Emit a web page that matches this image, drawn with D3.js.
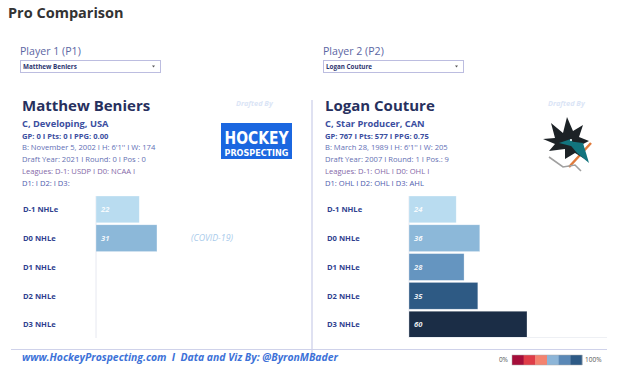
<!DOCTYPE html>
<html>
<head>
<meta charset="utf-8">
<script src="https://cdn.jsdelivr.net/npm/d3@7"></script>
<style>
  body { margin: 0; background: #fff; }
  svg { display: block; font-family: "Open Sans", "Noto Sans", sans-serif; }
</style>
</head>
<body>
<div id="chart"></div>
<script>
// NHLe levels and values per player
const levels = ["D-1 NHLe", "D0 NHLe", "D1 NHLe", "D2 NHLe", "D3 NHLe"];
const p1Values = [22, 31, null, null, null];
const p2Values = [24, 36, 28, 35, 60];
const levelColors = ["#b9dcf0", "#8cb8d9", "#6595c0", "#2e5a84", "#1b2d46"];

const p1Info = [
  "Matthew Beniers",
  "C, Developing, USA",
  "GP: 0 I Pts: 0 I PPG: 0.00",
  "B: November 5, 2002 I H: 6'1'' I W: 174",
  "Draft Year: 2021 I Round: 0 I Pos : 0",
  "Leagues: D-1: USDP I D0: NCAA I",
  "D1:  I D2:  I D3:"
];
const p2Info = [
  "Logan Couture",
  "C, Star Producer, CAN",
  "GP: 767 I Pts: 577 I PPG: 0.75",
  "B: March 28, 1989 I H: 6'1'' I W: 205",
  "Draft Year: 2007 I Round: 1 I Pos.: 9",
  "Leagues: D-1: OHL I D0: OHL I",
  "D1: OHL I D2: OHL I D3: AHL"
];
const legendColors = ["#a50e3a", "#df3d48", "#f4836f", "#8db5d7", "#5a88b6", "#2d5a86"];

const width = 628, height = 373;

const svg = d3.select("#chart").append("svg")
    .attr("width", width)
    .attr("height", height)
    .attr("viewBox", [0, 0, width, height]);

// Title
svg.append("text")
    .attr("x", 8).attr("y", 18)
    .attr("font-size", 14.5).attr("font-weight", 700)
    .attr("fill", "#333")
    .text("Pro Comparison");

// dividers
svg.append("line")
    .attr("x1", 312).attr("x2", 312).attr("y1", 100).attr("y2", 357)
    .attr("stroke", "#bfc3e4").attr("stroke-width", 1);
svg.append("line")
    .attr("x1", 11).attr("x2", 607).attr("y1", 349.5).attr("y2", 349.5)
    .attr("stroke", "#cfd2ea").attr("stroke-width", 1);

const x = d3.scaleLinear([0, 60], [0, 118]);
const y = d3.scaleBand(levels, [196, 338]).paddingInner(0.07);

function panel(px, labelX, baseX, draftedX, title, info, values, logo, note) {
  const g = svg.append("g");

  // player selector
  g.append("text")
      .attr("x", px).attr("y", 55)
      .attr("font-size", 10.6).attr("fill", "#5b66a3")
      .text(title);
  g.append("rect")
      .attr("x", px + 0.5).attr("y", 60.5).attr("width", 140).attr("height", 12)
      .attr("fill", "#fff").attr("stroke", "#bcbde0");
  g.append("text")
      .attr("x", px + 3).attr("y", 69)
      .attr("font-size", 6.3).attr("font-weight", 700).attr("fill", "#2d3570")
      .text(info[0]);
  g.append("path")
      .attr("d", `M${px + 132},${65.5}l3,0l-1.5,2z`)
      .attr("fill", "#555");

  // header text
  const hx = px + 2;
  g.append("text")
      .attr("x", hx).attr("y", 111)
      .attr("font-size", 15).attr("font-weight", 700).attr("fill", "#27305e")
      .text(info[0]);
  g.append("text")
      .attr("x", hx).attr("y", 126.5)
      .attr("font-size", 9.3).attr("font-weight", 700).attr("fill", "#3b4ea0")
      .text(info[1]);
  const lineColors = ["#3b4ea0", "#5f6fb6", "#6670b2", "#8468a8", "#4f5cae"];
  info.slice(2).forEach((t, i) => {
    g.append("text")
        .attr("x", hx).attr("y", 138.5 + i * 11.8)
        .attr("font-size", 7.6).attr("font-weight", i === 0 ? 700 : 400)
        .attr("fill", lineColors[i])
        .text(t);
  });

  g.append("text")
      .attr("x", draftedX).attr("y", 106)
      .attr("font-size", 7.3).attr("font-weight", 700).attr("font-style", "italic")
      .attr("fill", "#dbe5f6")
      .text("Drafted By");

  logo(g);

  // bars
  g.append("line")
      .attr("x1", baseX).attr("x2", baseX).attr("y1", 196).attr("y2", 338)
      .attr("stroke", "#e6e8f0");

  g.selectAll(".lab").data(levels).join("text")
      .attr("x", labelX)
      .attr("y", d => y(d) + y.bandwidth() / 2 + 2.7)
      .attr("font-size", 7.6).attr("font-weight", 700).attr("fill", "#2f3f8f")
      .text(d => d);

  const rows = levels.map((l, i) => ({ level: l, value: values[i], color: levelColors[i] }))
      .filter(d => d.value != null);

  g.selectAll(".bar").data(rows).join("rect")
      .attr("x", baseX)
      .attr("y", d => y(d.level))
      .attr("width", d => x(d.value))
      .attr("height", y.bandwidth())
      .attr("fill", d => d.color)
      .attr("stroke", "#ffffff").attr("stroke-opacity", 0.5).attr("stroke-width", 0.6);

  g.selectAll(".val").data(rows).join("text")
      .attr("x", baseX + 5)
      .attr("y", d => y(d.level) + y.bandwidth() / 2 + 2.7)
      .attr("font-size", 7.6).attr("font-weight", 700).attr("font-style", "italic")
      .attr("fill", "#fff").attr("fill-opacity", 0.9)
      .text(d => d.value);

  if (note) {
    g.append("text")
        .attr("x", 191).attr("y", y(levels[1]) + y.bandwidth() / 2 + 3)
        .attr("font-size", 8.8).attr("font-style", "italic")
        .attr("fill", "#a9cbeb")
        .text(note);
  }
}

function hpLogo(g) {
  g.append("rect")
      .attr("x", 221).attr("y", 123).attr("width", 71).attr("height", 36)
      .attr("fill", "#1b67e0");
  g.append("text")
      .attr("x", 256.5).attr("y", 143.5).attr("text-anchor", "middle")
      .attr("font-family", "'Liberation Sans Narrow', 'DejaVu Sans Condensed', sans-serif")
      .attr("font-size", 17).attr("font-weight", 700).attr("fill", "#fff")
      .attr("textLength", 64).attr("lengthAdjust", "spacingAndGlyphs")
      .text("HOCKEY");
  g.append("text")
      .attr("x", 256.5).attr("y", 155.5).attr("text-anchor", "middle")
      .attr("font-family", "'Liberation Sans Narrow', 'DejaVu Sans Condensed', sans-serif")
      .attr("font-size", 9.5).attr("font-weight", 700).attr("fill", "#fff")
      .attr("textLength", 64).attr("lengthAdjust", "spacingAndGlyphs")
      .text("PROSPECTING");
}

function sharksLogo(g) {
  const lg = g.append("g").attr("transform", "translate(541,117)");
  // stick
  lg.append("path").attr("d", "M28,50 L50,26").attr("stroke", "#e07a3a").attr("stroke-width", 2.5);
  lg.append("path").attr("d", "M8,40 L22,50 L34,48 L40,54").attr("stroke", "#a0a0a0").attr("stroke-width", 1.6).attr("fill", "none");
  // shark body
  lg.append("path")
      .attr("d", "M2,22 L14,21 L10,6 L22,16 L26,0 L32,14 L42,8 L38,20 L48,24 L40,28 L47,44 L34,36 L24,42 L24,32 L8,34 L14,27 Z")
      .attr("fill", "#1c2226");
  lg.append("path")
      .attr("d", "M26,24 L42,26 L48,46 L36,36 Z")
      .attr("fill", "#12747e");
  lg.append("path")
      .attr("d", "M18,26 L30,22 L34,30 Z")
      .attr("fill", "#12747e");
  lg.append("circle").attr("cx", 30).attr("cy", 23).attr("r", 1).attr("fill", "#fff");
}

panel(20, 23, 96, 236, "Player 1 (P1)", p1Info, p1Values, hpLogo, "(COVID-19)");
panel(323, 327, 409, 548, "Player 2 (P2)", p2Info, p2Values, sharksLogo, null);

// bottom baseline for right bars
svg.append("line")
    .attr("x1", 409).attr("x2", 607).attr("y1", 337.5).attr("y2", 337.5)
    .attr("stroke", "#eef0f4");

// footer
svg.append("text")
    .attr("x", 22).attr("y", 360.5)
    .attr("font-size", 10.4).attr("font-weight", 700).attr("font-style", "italic")
    .attr("fill", "#3d72d8")
    .attr("xml:space", "preserve")
    .text("www.HockeyProspecting.com  I  Data and Viz By: @ByronMBader");

// colour legend
const lx = d3.scaleBand(d3.range(legendColors.length), [512, 582]);
svg.append("text")
    .attr("x", 508).attr("y", 362).attr("text-anchor", "end")
    .attr("font-size", 6.5).attr("fill", "#555").text("0%");
svg.selectAll(".leg").data(legendColors).join("rect")
    .attr("x", (d, i) => lx(i)).attr("y", 355)
    .attr("width", lx.bandwidth() + 0.3).attr("height", 10)
    .attr("fill", d => d);
svg.append("rect")
    .attr("x", 512).attr("y", 355).attr("width", 70).attr("height", 10)
    .attr("fill", "none").attr("stroke", "#aaa").attr("stroke-width", 0.5);
svg.append("text")
    .attr("x", 585).attr("y", 362)
    .attr("font-size", 6.5).attr("fill", "#555").text("100%");
</script>
</body>
</html>
